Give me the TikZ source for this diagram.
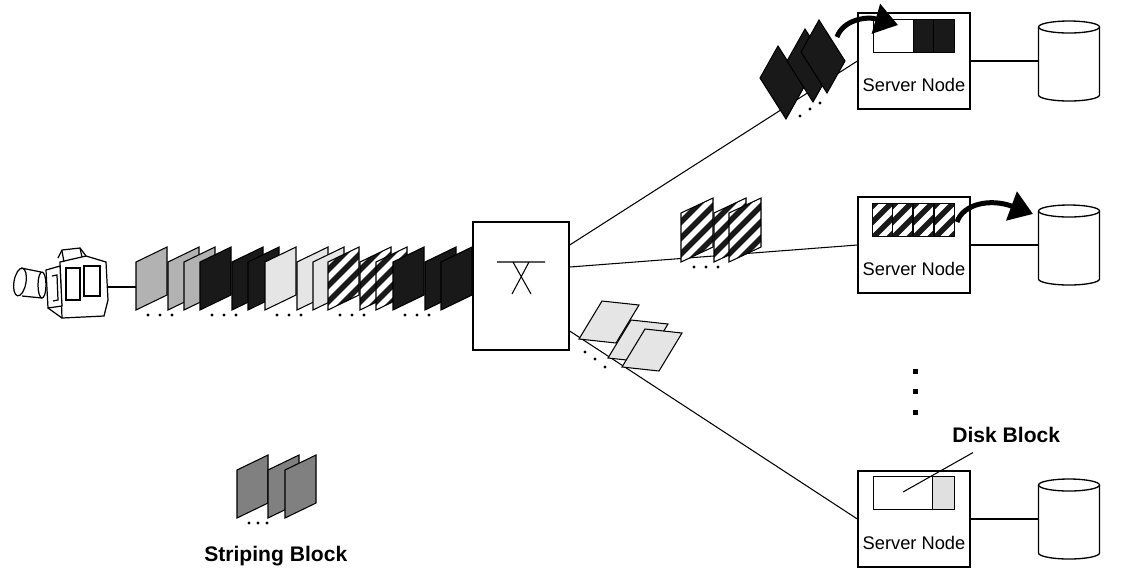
\documentclass[tikz,border=0pt]{standalone}
\usepackage{fontspec}
\setmainfont{Liberation Sans}
\usetikzlibrary{arrows.meta,calc}

\begin{document}
\begin{tikzpicture}[x=0.02cm,y=-0.02cm,line join=miter,
  wire/.style={line width=0.6pt},
  box/.style={draw,line width=0.75pt,inner sep=0pt},
  slab/.style={draw,line width=0.6pt},
  lite/.style={slab,fill=black!30},
  dark/.style={slab,fill=black!90},
  pale/.style={slab,fill=black!10},
  hatched/.style={slab,fill=black!90,path picture={
      \foreach \k in {-96,-80,...,96}
        \draw[white,line width=0.11cm]
          ($(path picture bounding box.center)+(\k-60,60)$) -- ++(120,-120);}},
  flow/.style={line width=0.1cm,-{Triangle[length=0.46cm,width=0.6cm]}}]
  \tikzstyle{server}=[box,minimum width=2.24cm,minimum height=1.92cm]
  \tikzstyle{drum}=[inner sep=0pt,minimum width=1.22cm,minimum height=1.6cm]
  \tikzstyle{lbl}=[font=\fontsize{10.4}{12}\selectfont,inner sep=0pt,anchor=base]
  \tikzstyle{caption}=[font=\bfseries\fontsize{12}{14}\selectfont,inner sep=0pt,anchor=base west]

  \useasboundingbox (0,0) rectangle (1139,583);

  % video camera
  \begin{scope}[line width=0.7pt,fill=white]
    \draw[rotate around={-10:(20,282)}] (20,282) ellipse[x radius=6,y radius=14];
    \draw (21,268) -- (41,272) (22,296) -- (42,298);
    \draw (42,285) ellipse[x radius=4,y radius=13];
    \draw (60,262) -- (86,256) -- (106,262) -- (108,300) -- (104,316) -- (62,318) -- cycle;
    \draw (58,258) -- (62,250) -- (80,248) -- (86,256);
    \draw (62,251) -- (64,262) (80,248) -- (82,257);
    \draw[fill=white] (46,270) -- (60,266) -- (62,306) -- (48,308) -- cycle;
    \draw (48,308) -- (62,318);
    \draw (66,268) rectangle (80,300) (84,266) rectangle (100,296);
    \draw (52,276) -- (57,275) -- (58,300) -- (53,301);
    \fill (95,306) rectangle (102,313);
  \end{scope}
  \coordinate (cam) at (108,287);
  \coordinate (feed) at (136,287);
  \draw[wire] (cam) -- (feed);

  % switch
  \node[box,minimum width=1.92cm,minimum height=2.56cm] (sw) at (521,286) {};
  \draw[wire] (497,262) -- (545,262) (513,262) -- (531,294) (529,262) -- (512,294);

  % server nodes with their disks
  \foreach \n/\y in {1/61,2/245,3/519}{
    \node[server] (srv\n) at (914,\y) {};
    \node[lbl] at ($(srv\n.north)+(0,79)$) {Server Node};
    \node[drum] (dsk\n) at (1069,\y) {};
    \draw[box,fill=white] (1038.5,\y-34) -- (1038.5,\y+34)
      arc[start angle=180,end angle=0,x radius=30.5,y radius=6] -- (1099.5,\y-34);
    \draw[box] (1069,\y-34) ellipse[x radius=30.5,y radius=6];
    \draw[wire] (srv\n.east) -- (dsk\n);
  }

  \draw[wire] ([yshift=0.82cm]sw.east) -- (srv1.west);
  \draw[wire] ([yshift=0.38cm]sw.east) -- (srv2.west);
  \draw[wire] ([yshift=-0.9cm]sw.east) -- (srv3.west);

  % buffers
  \begin{scope}[shift={(srv1.north west)}]
    \draw[slab,fill=white] (16,7) rectangle (56,40);
    \draw[dark] (56,7) rectangle (76,40);
    \draw[dark] (76,7) rectangle (97,40);
  \end{scope}
  \begin{scope}[shift={(srv2.north west)}]
    \foreach \x in {15,35,56,77}
      \draw[hatched] (\x,7) rectangle ++(20.5,33);
  \end{scope}
  \begin{scope}[shift={(srv3.north west)}]
    \draw[slab,fill=white] (16,6) rectangle (75,39);
    \draw[slab,fill=black!12] (75,6) rectangle (97,39);
  \end{scope}

  % incoming stream of striping blocks
  \foreach \g/\s in {136/lite,200/dark,265/pale,328/hatched,393/dark}{
    \foreach \dx in {0,32,48}
      \draw[\s] (\g+\dx,310) -- ++(0,-48) -- ++(31,-15) -- ++(0,48) -- cycle;
    \foreach \dx in {12,24,36}
      \fill (\g+\dx,315) circle[radius=1.6];
  }

  % blocks on the way to each server
  \foreach \x/\y in {760/78,787/61,801/52}
    \draw[dark] (\x,\y) -- ++(18,-32) -- ++(26,41) -- ++(-18,32) -- cycle;
  \foreach \x/\y in {800/116,810/109,820/103}
    \fill (\x,\y) circle[radius=1.6];

  \foreach \x in {681,714,729}
    \draw[hatched] (\x,262) -- ++(0,-49) -- ++(32,-15) -- ++(0,49) -- cycle;
  \foreach \x in {694,706,718}
    \fill (\x,267) circle[radius=1.6];

  \foreach \x/\y in {579/339,608/358,622/367}
    \draw[pale] (\x,\y) -- ++(23,-38) -- ++(37,4) -- ++(-23,38) -- cycle;
  \foreach \x/\y in {585/352,595/359,605/367}
    \fill (\x,\y) circle[radius=1.6];

  % writes into the buffer and onto the disk
  \draw[flow] (837,37) .. controls (843,20) and (866,16) .. (898,25);
  \draw[flow] (957,222) .. controls (963,204) and (990,198) .. (1033,214);

  \foreach \y in {371,391,412}
    \fill (912.5,\y-2.5) rectangle ++(5,5);

  \node[caption] (dblk) at (952,442) {Disk Block};
  \coordinate (dtip) at (903,492);
  \draw[wire] ($(dblk.south west)+(21,10)$) -- (dtip);

  % legend
  \foreach \x in {237,268,285}
    \draw[slab,fill=black!50] (\x,518) -- ++(0,-48) -- ++(31,-15) -- ++(0,48) -- cycle;
  \foreach \x in {249,258,267}
    \fill (\x,523) circle[radius=1.6];
  \node[caption] (sblk) at (204,561) {Striping Block};
\end{tikzpicture}
\end{document}
